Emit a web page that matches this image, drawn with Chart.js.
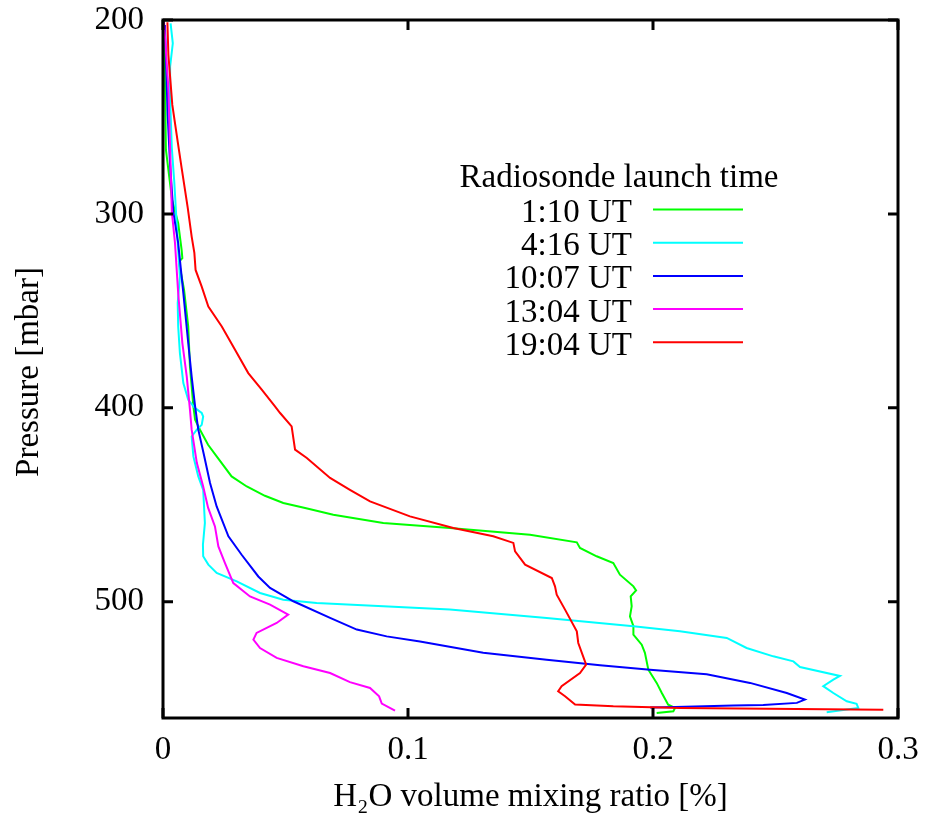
<!DOCTYPE html>
<html>
<head>
<meta charset="utf-8">
<script src="https://cdn.jsdelivr.net/npm/chart.js@4/dist/chart.umd.min.js"></script>
<style>
    body { margin: 0; background: #fff; }
    canvas { display: block; }
</style>
</head>
<body>
<canvas id="chart" width="927" height="822"></canvas>
<script>
const FONT = '"Liberation Serif", "Times New Roman", serif';

const xTickValues = [0, 0.1, 0.2, 0.3];
const xTickLabels = ['0', '0.1', '0.2', '0.3'];
const yTickValues = [200, 300, 400, 500];
const yTickLabels = ['200', '300', '400', '500'];

const legendTitle = 'Radiosonde launch time';
const seriesLabels = ['1:10 UT', '4:16 UT', '10:07 UT', '13:04 UT', '19:04 UT'];
const colors = ['#00ff00', '#00ffff', '#0000ff', '#ff00ff', '#ff0000'];

// H2O volume mixing ratio [%] against pressure [mbar]
const ratio0110 = [0.0004, 0.0008, 0.0012, 0.0037, 0.0062, 0.0076, 0.0079, 0.0065, 0.0086, 0.0103, 0.0110, 0.0124, 0.0131, 0.0151, 0.0184, 0.0219, 0.0280, 0.0342, 0.0416, 0.0491, 0.0580, 0.0695, 0.0899, 0.1171, 0.1498, 0.1689, 0.1702, 0.1770, 0.1838, 0.1865, 0.1920, 0.1931, 0.1909, 0.1913, 0.1906, 0.1920, 0.1920, 0.1954, 0.1967, 0.1981, 0.2015, 0.2036, 0.2062, 0.2090, 0.2083, 0.2015];
const pressure0110 = [201, 232, 267, 292.8, 304.8, 318.6, 322.8, 324.7, 339.2, 358.1, 378.7, 399.3, 406.2, 411.3, 419.1, 425.1, 435.4, 440.6, 445.4, 449.1, 451.7, 455.2, 459.4, 462, 465.5, 469.4, 472.3, 476.6, 480.1, 486.1, 492.1, 494.2, 497.3, 502.4, 507.6, 512.7, 517, 522.2, 526.4, 535.1, 541.9, 547.1, 553.1, 554.8, 556.5, 557.4];

const ratio0416 = [0.0031, 0.0040, 0.0029, 0.0029, 0.0036, 0.0046, 0.0053, 0.0060, 0.0069, 0.0060, 0.0062, 0.0069, 0.0083, 0.0103, 0.0131, 0.0158, 0.0164, 0.0158, 0.0138, 0.0117, 0.0124, 0.0144, 0.0164, 0.0171, 0.0163, 0.0164, 0.0185, 0.0219, 0.0301, 0.0396, 0.0491, 0.0627, 0.0899, 0.1171, 0.1566, 0.1920, 0.2110, 0.2301, 0.2382, 0.2491, 0.2573, 0.2600, 0.2763, 0.2736, 0.2695, 0.2736, 0.2791, 0.2831, 0.2838, 0.2709];
const pressure0416 = [201.7, 212, 224.1, 240.2, 266, 283.4, 298.8, 315, 332.3, 346, 358.1, 371.8, 387.3, 395.9, 400.2, 402.7, 404.5, 408.8, 411.3, 414.8, 425.1, 435.4, 442.3, 459.4, 470.6, 476.6, 480.9, 485.2, 489.5, 495.5, 499, 500.7, 502.4, 504.1, 508.4, 512.7, 515.3, 518.7, 523.9, 528.2, 530.8, 533.7, 538.3, 540.2, 543.6, 547.1, 551.4, 552.7, 554.8, 557];

const ratio1007 = [0.0008, 0.0012, 0.0019, 0.0029, 0.0042, 0.0062, 0.0083, 0.0103, 0.0117, 0.0131, 0.0144, 0.0167, 0.0192, 0.0219, 0.0267, 0.0321, 0.0389, 0.0437, 0.0532, 0.0682, 0.0791, 0.0913, 0.1049, 0.1307, 0.1566, 0.1784, 0.1988, 0.2219, 0.2396, 0.2546, 0.2620, 0.2587, 0.2450, 0.2328, 0.2090, 0.1988];
const pressure1007 = [202.6, 219.7, 249, 274.7, 298.8, 315.1, 340.9, 366.6, 383.9, 399.3, 411.3, 424.2, 438.8, 450.9, 466.3, 475.8, 487, 492.9, 499.8, 508.4, 514.4, 517.9, 520.5, 526.4, 529.9, 532.8, 535.1, 537.4, 541.9, 547.1, 550.5, 552.2, 553.3, 553.5, 554.3, 554.6];

const ratio1304 = [0.0004, 0.0022, 0.0029, 0.0036, 0.0049, 0.0062, 0.0079, 0.0097, 0.0110, 0.0117, 0.0138, 0.0164, 0.0184, 0.0212, 0.0226, 0.0253, 0.0287, 0.0355, 0.0437, 0.0511, 0.0464, 0.0382, 0.0369, 0.0396, 0.0464, 0.0573, 0.0682, 0.0763, 0.0845, 0.0882, 0.0893, 0.0947];
const pressure1304 = [201, 235.2, 266, 298.8, 315.1, 340.9, 366.6, 383.9, 401, 411.3, 428.4, 440.6, 451.5, 461.2, 471.5, 480.1, 490.4, 497.3, 501.5, 506.7, 511, 516.1, 519.6, 523.9, 529, 533.3, 536.8, 541.5, 544.5, 548.8, 552.6, 556.2];

const ratio1904 = [0.0018, 0.0022, 0.0038, 0.0060, 0.0076, 0.0101, 0.0117, 0.0128, 0.0133, 0.0158, 0.0185, 0.0240, 0.0294, 0.0348, 0.0403, 0.0457, 0.0478, 0.0525, 0.0539, 0.0587, 0.0682, 0.0763, 0.0845, 0.1008, 0.1185, 0.1348, 0.1430, 0.1437, 0.1478, 0.1587, 0.1600, 0.1607, 0.1641, 0.1689, 0.1695, 0.1727, 0.1702, 0.1627, 0.1613, 0.1641, 0.1682, 0.1838, 0.2110, 0.2940];
const pressure1904 = [201.2, 218, 243.8, 262.7, 276.3, 296.9, 311.7, 320.1, 328.9, 337.5, 347.8, 358.1, 370.1, 382.1, 390.7, 399.3, 402.7, 409.6, 421.6, 425.9, 436.2, 442.3, 448.3, 456, 462, 466.3, 469.7, 474.1, 480.9, 487.8, 492.1, 496.4, 504.1, 515.3, 521.3, 532.5, 536.8, 543.6, 546.2, 548.8, 553.1, 554, 554.8, 555.7];

const ratios = [ratio0110, ratio0416, ratio1007, ratio1304, ratio1904];
const pressures = [pressure0110, pressure0416, pressure1007, pressure1304, pressure1904];

function toPoints(xs, ys) {
    return xs.map((x, i) => ({ x, y: ys[i] }));
}

// frame, inward ticks (mirrored), axis titles and the gnuplot-style key
const framePlugin = {
    id: 'frame',
    afterDatasetsDraw(chart) {
        const { ctx, chartArea: area, scales } = chart;
        ctx.save();
        ctx.strokeStyle = '#000';
        ctx.lineWidth = 3;
        ctx.beginPath();
        for (const v of xTickValues) {
            const px = scales.x.getPixelForValue(v);
            ctx.moveTo(px, area.bottom);
            ctx.lineTo(px, area.bottom - 10);
            ctx.moveTo(px, area.top);
            ctx.lineTo(px, area.top + 10);
        }
        for (const v of yTickValues) {
            const py = scales.y.getPixelForValue(v);
            ctx.moveTo(area.left, py);
            ctx.lineTo(area.left + 10, py);
            ctx.moveTo(area.right, py);
            ctx.lineTo(area.right - 10, py);
        }
        ctx.stroke();
        ctx.strokeRect(area.left, area.top, area.right - area.left, area.bottom - area.top);

        ctx.fillStyle = '#000';
        ctx.font = `33px ${FONT}`;
        ctx.textBaseline = 'alphabetic';

        // x axis title
        ctx.textAlign = 'center';
        ctx.fillText('H\u2082O volume mixing ratio [%]', (area.left + area.right) / 2, 806);

        // y axis title
        ctx.save();
        ctx.translate(38, 372);
        ctx.rotate(-Math.PI / 2);
        ctx.fillText('Pressure [mbar]', 0, 0);
        ctx.restore();

        // key
        ctx.fillText(legendTitle, 619, 187);
        ctx.textAlign = 'right';
        chart.data.datasets.forEach((ds, i) => {
            const y = 209.5 + i * 33.2;
            ctx.fillStyle = '#000';
            ctx.fillText(ds.label, 632, y + 12.5);
            ctx.strokeStyle = ds.borderColor;
            ctx.lineWidth = 2;
            ctx.beginPath();
            ctx.moveTo(653, y);
            ctx.lineTo(743, y);
            ctx.stroke();
        });
        ctx.restore();
    }
};

function main() {
    const datasets = seriesLabels.map((label, i) => ({
        label,
        data: toPoints(ratios[i], pressures[i]),
        borderColor: colors[i],
        backgroundColor: colors[i],
        borderWidth: 2,
        pointRadius: 0,
        showLine: true,
        fill: false,
        tension: 0,
        order: seriesLabels.length - i
    }));

    const context = document.getElementById('chart').getContext('2d');
    new Chart(context, {
        type: 'scatter',
        data: { datasets },
        options: {
            responsive: false,
            animation: false,
            devicePixelRatio: 1,
            layout: { padding: { left: 0, top: 20, right: 29, bottom: 0 } },
            plugins: {
                legend: { display: false },
                tooltip: { enabled: false }
            },
            scales: {
                x: {
                    type: 'linear',
                    min: 0,
                    max: 0.3,
                    grid: { display: false, drawTicks: false },
                    border: { display: false },
                    afterBuildTicks: scale => {
                        scale.ticks = xTickValues.map(value => ({ value }));
                    },
                    afterFit: scale => {
                        scale.height = 104;
                        scale.paddingLeft = 0;
                        scale.paddingRight = 0;
                    },
                    ticks: {
                        padding: 13,
                        color: '#000',
                        maxRotation: 0,
                        font: { family: FONT, size: 33 },
                        callback: (value, index) => xTickLabels[index]
                    }
                },
                y: {
                    type: 'linear',
                    reverse: true,
                    min: 200,
                    max: 560,
                    grid: { display: false, drawTicks: false },
                    border: { display: false },
                    afterBuildTicks: scale => {
                        scale.ticks = yTickValues.map(value => ({ value }));
                    },
                    afterFit: scale => {
                        scale.width = 163;
                        scale.paddingTop = 0;
                        scale.paddingBottom = 0;
                    },
                    ticks: {
                        padding: 19,
                        color: '#000',
                        font: { family: FONT, size: 33 },
                        callback: (value, index) => yTickLabels[index]
                    }
                }
            }
        },
        plugins: [framePlugin]
    });
}

document.addEventListener('DOMContentLoaded', main);
</script>
</body>
</html>
